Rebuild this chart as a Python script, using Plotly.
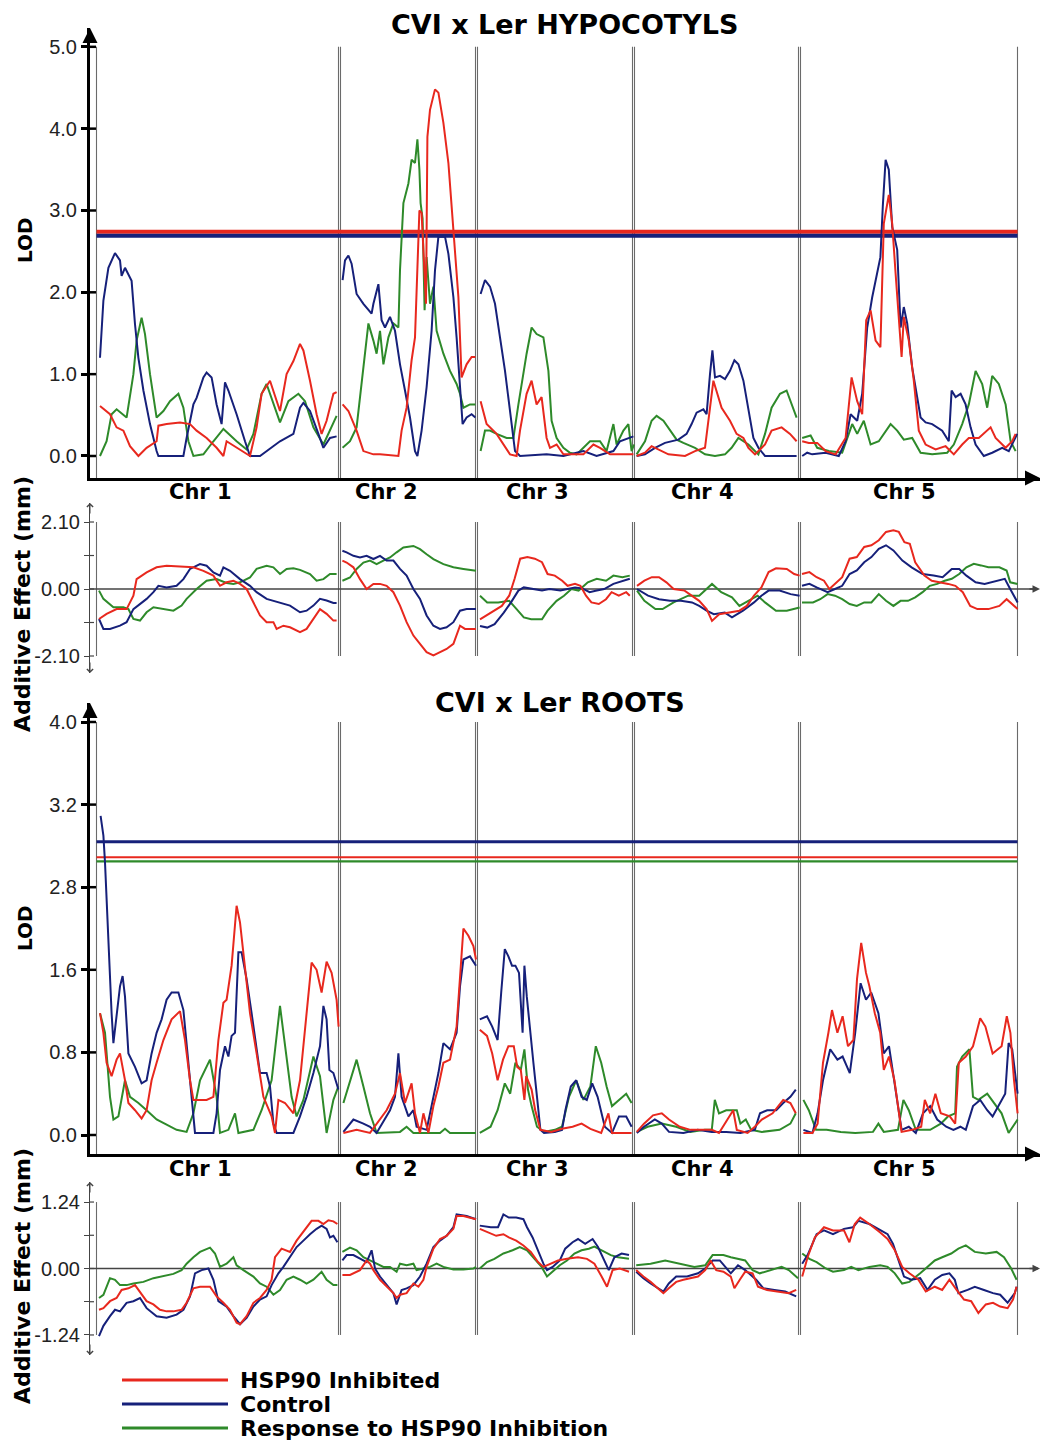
import plotly.graph_objects as go

W, H = 1048, 1441

# ---------------- data ----------------
CHROMOSOMES = ["Chr 1", "Chr 2", "Chr 3", "Chr 4", "Chr 5"]
CHR_LEN_CM = [120.5, 67, 77, 81.5, 108]
CHR_GAP_CM = 1.5

SERIES = ["HSP90 Inhibited", "Control", "Response to HSP90 Inhibition"]

HYP_LOD_TICKS = [0, 1, 2, 3, 4, 5]
HYP_LOD_TICKTEXT = ["0.0", "1.0", "2.0", "3.0", "4.0", "5.0"]
HYP_ADD_TICKS = [-2.1, -1.05, 0, 1.05, 2.1]
HYP_ADD_TICKTEXT = ["-2.10", "", "0.00", "", "2.10"]
ROOT_LOD_TICKS = [0, 0.8, 1.6, 2.4, 3.2, 4.0]
ROOT_LOD_TICKTEXT = ["0.0", "0.8", "1.6", "2.8", "3.2", "4.0"]
ROOT_ADD_TICKS = [-1.24, -0.62, 0, 0.62, 1.24]
ROOT_ADD_TICKTEXT = ["-1.24", "", "0.00", "", "1.24"]

# significance thresholds (HSP90 Inhibited, Control, Response)
HYP_THRESHOLDS = [2.74, 2.69, None]
ROOT_THRESHOLDS = [2.69, 2.84, 2.65]

# (position cM within chromosome, value) per chromosome
HYP_LOD_HSP90 = [
    [(1, 0.61), (6, 0.51), (9.3, 0.35), (12.7, 0.31), (16, 0.12), (20.2, 0), (24.3, 0.1), (29.3, 0.18), (30.2, 0.37),
     (34.3, 0.39), (41, 0.41), (46, 0.39), (49.3, 0.31), (54.3, 0.22), (59.3, 0.1), (62.7, 0), (64.3, 0.18), (69.3, 0.1),
     (76, 0), (79.3, 0.35), (81.8, 0.76), (86, 0.92), (89.3, 0.67), (91, 0.55), (94.3, 1.0), (97.7, 1.16), (101, 1.37),
     (102.7, 1.29), (106, 0.92), (109.3, 0.51), (111.8, 0.27), (114.3, 0.43), (117.7, 0.76), (119.3, 0.78)],
    [(0.3, 0.63), (3.2, 0.55), (7.3, 0.31), (10.7, 0.06), (15.7, 0.02), (19, 0.02), (28.2, 0), (29.8, 0.31), (32.3, 0.59),
     (34.8, 1.17), (36.5, 1.45), (37.7, 2.27), (38.7, 3.0), (39.8, 2.97), (41, 2.27), (42, 1.86), (42.7, 3.9), (44, 4.23),
     (46.5, 4.48), (48.2, 4.44), (50.7, 4.07), (53.2, 3.58), (55.7, 2.76), (58.2, 1.94), (59.8, 0.96), (62.3, 1.12),
     (64.8, 1.21), (66.7, 1.21)],
    [(0.8, 0.67), (3.8, 0.39), (8.8, 0.27), (12.2, 0.14), (15.5, 0.02), (18.8, 0), (20.5, 0.31), (23.8, 0.76), (26.3, 0.92),
     (28.8, 0.63), (31.3, 0.72), (33.8, 0.22), (35.5, 0.1), (38.8, 0.14), (42.2, 0.02), (52.2, 0.02), (57.2, 0.14),
     (60.5, 0.1), (65.5, 0.02), (77.2, 0.02)],
    [(0.3, 0), (4.5, 0.04), (7.8, 0.12), (11.2, 0.08), (16.2, 0.02), (24.5, 0), (29.5, 0.06), (34.5, 0.1), (35.8, 0.35),
     (38.7, 0.92), (42.8, 0.59), (47, 0.43), (50.3, 0.27), (53.7, 0.22), (56.2, 0.1), (59.5, 0.02), (64.5, 0.14),
     (67.8, 0.31), (72.8, 0.35), (77, 0.27), (80.3, 0.18)],
    [(0.1, 0.18), (3.4, 0.16), (7.6, 0.16), (11.8, 0.06), (16.8, 0.02), (21.8, 0.22), (24.8, 0.96), (27.6, 0.67),
     (30.1, 0.51), (32.1, 1.66), (34.3, 1.78), (36.8, 1.41), (39.2, 1.33), (40.9, 2.84), (43.4, 3.19), (45.1, 2.84),
     (46.8, 2.23), (48.4, 1.74), (49.8, 1.21), (50.9, 1.7), (53.4, 1.41), (55.9, 0.92), (58.4, 0.31), (61.8, 0.14),
     (66.8, 0.08), (71.8, 0.12), (75.9, 0.02), (80.1, 0.14), (83.4, 0.22), (88.4, 0.22), (94.3, 0.35), (96.8, 0.22),
     (101.8, 0.1), (105.1, 0.18), (106.8, 0.27)],
]
HYP_LOD_CONTROL = [
    [(1, 1.2), (2.7, 1.9), (5.2, 2.3), (8.5, 2.48), (11, 2.39), (11.8, 2.2), (13.5, 2.3), (15.2, 2.22), (16.8, 2.14),
     (18.5, 1.61), (20.2, 1.2), (22.7, 0.8), (26, 0.39), (29.3, 0.06), (30.2, 0), (42.7, 0), (44.3, 0.22), (47.7, 0.63),
     (49.3, 0.71), (52.7, 0.96), (54.3, 1.02), (56.8, 0.96), (59.3, 0.63), (61.8, 0.39), (63.5, 0.9), (65.2, 0.8),
     (69.3, 0.51), (73.5, 0.18), (76, 0), (81, 0), (84.3, 0.06), (91, 0.18), (97.7, 0.27), (101, 0.59), (102.7, 0.65),
     (106, 0.55), (110.2, 0.27), (112.7, 0.1), (116, 0.22), (119.3, 0.24)],
    [(0.3, 2.15), (1.5, 2.39), (3.2, 2.45), (4.8, 2.35), (7.3, 1.98), (10.7, 1.86), (14.8, 1.74), (15.7, 1.86), (18.2, 2.1),
     (19.8, 1.66), (21.5, 1.57), (24, 1.7), (26.5, 1.53), (29, 1.12), (31.5, 0.8), (34, 0.47), (36.5, 0.06), (37.7, 0),
     (39.8, 0.31), (42.3, 0.84), (44.8, 1.53), (46.5, 2.27), (48.2, 2.68), (51.5, 2.68), (53.2, 2.47), (55.7, 1.94),
     (57.3, 1.45), (59, 0.84), (60.3, 0.39), (62.3, 0.47), (64.8, 0.51), (66.7, 0.47)],
    [(0.8, 1.98), (3, 2.15), (5.5, 2.07), (8, 1.86), (10.5, 1.45), (13, 1.04), (15.5, 0.55), (18, 0.06), (20.5, 0),
     (33.8, 0.02), (42.2, 0), (52.2, 0.06), (58.8, 0), (67.2, 0.06), (70.5, 0.18), (75.5, 0.22), (77.2, 0.24)],
    [(0.3, 0), (4.5, 0.02), (9.5, 0.1), (14.5, 0.16), (21.2, 0.2), (25.3, 0.27), (27.8, 0.39), (30.3, 0.53), (33.7, 0.57),
     (35.3, 0.51), (37, 1.0), (38.2, 1.29), (39.5, 0.96), (42, 0.98), (44.5, 0.94), (47, 1.04), (49.2, 1.17), (51.2, 1.12),
     (53.7, 0.92), (56.2, 0.59), (58.7, 0.22), (61.2, 0.1), (64.5, 0), (80.3, 0)],
    [(0.1, 0), (2.6, 0.04), (5.1, 0.02), (11.8, 0.04), (18.4, 0), (21.8, 0.18), (24.3, 0.51), (27.6, 0.43), (30.1, 0.76),
     (32.6, 1.57), (35.1, 1.94), (37.6, 2.25), (39.2, 2.43), (40.4, 3.05), (41.8, 3.62), (43.4, 3.5), (45.1, 2.8),
     (47.6, 2.52), (49.3, 1.57), (50.9, 1.82), (52.6, 1.62), (55.1, 1.08), (57.6, 0.72), (59.3, 0.47), (61.8, 0.41),
     (65.1, 0.39), (70.1, 0.31), (73.4, 0.18), (74.8, 0.8), (76.8, 0.72), (79.3, 0.76), (81.8, 0.63), (84.3, 0.35),
     (86.8, 0.14), (90.9, 0), (95.1, 0.04), (100.1, 0.1), (103.4, 0.06), (107.6, 0.27)],
]
HYP_LOD_RESPONSE = [
    [(1, 0), (4.3, 0.18), (6.8, 0.51), (9.3, 0.57), (14.3, 0.47), (17.7, 1.0), (19.3, 1.41), (21.8, 1.69), (23.5, 1.49),
     (26, 1.0), (29.3, 0.47), (32.7, 0.55), (36, 0.67), (40.2, 0.76), (42.7, 0.59), (45.2, 0.18), (47.7, 0), (52.7, 0.02),
     (57.7, 0.18), (62.7, 0.33), (69.3, 0.18), (74.3, 0.08), (77.7, 0.27), (81.8, 0.76), (84.3, 0.88), (89.3, 0.51),
     (91, 0.41), (95.2, 0.67), (100.2, 0.76), (103.5, 0.67), (107.7, 0.35), (112.7, 0.14), (116, 0.31), (119.3, 0.49)],
    [(0.3, 0.1), (4, 0.18), (7.3, 0.35), (9, 0.72), (10.7, 1.12), (13.2, 1.62), (15.7, 1.41), (17.3, 1.25), (19, 1.53),
     (20.7, 1.12), (23.2, 1.45), (25.7, 1.62), (28.2, 1.57), (29, 2.27), (30.7, 3.09), (33.2, 3.33), (34.8, 3.62),
     (36.5, 3.58), (37.7, 3.87), (38.7, 3.5), (39.3, 3.09), (40.3, 2.9), (41.3, 1.78), (42.3, 2.43), (44, 1.86),
     (45.7, 2.07), (47.3, 1.53), (50.7, 1.25), (54, 1.04), (57.3, 0.88), (59, 0.76), (60.7, 0.59), (64, 0.63), (66.7, 0.63)],
    [(0.8, 0.06), (3, 0.31), (5.5, 0.31), (8.8, 0.27), (13.8, 0.22), (17.2, 0.22), (19.7, 0.63), (22.2, 1.04), (23.8, 1.25),
     (26.3, 1.57), (28.8, 1.49), (32.2, 1.45), (34.7, 1.04), (36.3, 0.43), (38.8, 0.22), (42.2, 0.1), (45.5, 0.04),
     (48.8, 0.02), (55.5, 0.18), (60.5, 0.18), (63.8, 0.06), (67.2, 0.39), (68.8, 0.14), (72.2, 0.31), (74.7, 0.39),
     (76.3, 0.06), (77.5, 0.14)],
    [(0.3, 0.02), (4.5, 0.18), (7.8, 0.43), (10.3, 0.49), (13.7, 0.43), (17, 0.31), (20.3, 0.2), (23.7, 0.16), (29.5, 0.1),
     (34.5, 0.02), (39.5, 0), (44.5, 0.02), (47.8, 0.1), (51.2, 0.22), (56.2, 0.14), (61.2, 0.02), (64.5, 0.27),
     (67.8, 0.59), (72, 0.76), (75.3, 0.8), (77.8, 0.63), (80.3, 0.47)],
    [(0.1, 0.22), (4.3, 0.25), (7.6, 0.1), (13.4, 0.06), (20.1, 0.04), (22.6, 0.22), (25.1, 0.39), (27.6, 0.27),
     (30.9, 0.43), (34.3, 0.14), (38.4, 0.18), (44.3, 0.39), (47.6, 0.31), (50.9, 0.2), (55.1, 0.22), (59.3, 0.04),
     (65.1, 0.02), (72.6, 0.04), (75.9, 0.14), (80.1, 0.39), (83.4, 0.63), (86.8, 1.04), (90.1, 0.88), (92.6, 0.59),
     (95.1, 0.98), (98.4, 0.88), (101.8, 0.63), (104.3, 0.18), (106.8, 0.06)],
]

HYP_ADD_HSP90 = [
    [(0.5, -0.94), (4.3, -0.78), (9.3, -0.63), (14.3, -0.63), (17.7, -0.21), (19.3, 0.31), (24.3, 0.52), (29.3, 0.68),
     (34.3, 0.73), (41, 0.71), (47.7, 0.68), (52.7, 0.57), (57.7, 0.42), (61, 0.1), (64.3, 0.21), (67.7, 0.26), (71, 0.16),
     (74.3, 0), (77.7, -0.42), (81, -0.83), (84.3, -1.04), (87.7, -1.04), (89.3, -1.25), (92.7, -1.15), (96, -1.2),
     (101, -1.35), (104.3, -1.25), (107.7, -0.94), (111, -0.63), (114.3, -0.78), (117.7, -0.99), (119.3, -0.99)],
    [(0.2, 0.89), (2.3, 0.83), (5.7, 0.68), (9, 0.31), (12.3, 0), (15.7, 0.16), (19, 0.16), (22.3, 0.1), (25.7, -0.1),
     (29, -0.52), (32.3, -1.04), (35.7, -1.46), (39, -1.72), (42.3, -1.98), (45.7, -2.08), (49, -1.98), (52.3, -1.88),
     (55.7, -1.72), (59, -1.15), (61.5, -1.25), (65.7, -1.25), (67, -1.25)],
    [(0.5, -0.95), (6, -0.74), (11.4, -0.53), (15.1, -0.21), (17.8, 0.32), (20.6, 0.95), (24.2, 1.0), (27.9, 0.95),
     (31.5, 0.84), (34.3, 0.47), (37.9, 0.42), (41.6, 0.26), (44.3, 0.1), (48, 0.16), (50.7, 0.1), (53.5, -0.21),
     (56.2, -0.42), (59.9, -0.47), (63.5, -0.32), (66.3, -0.1), (69.9, -0.21), (73.6, -0.1), (75.4, -0.21)],
    [(0.5, 0.1), (4.2, 0.26), (7.9, 0.37), (11.5, 0.37), (15.2, 0.21), (18.8, 0), (24.3, -0.05), (28, -0.21),
     (31.6, -0.37), (35.3, -0.63), (38, -1.0), (41.6, -0.79), (46.2, -0.74), (51.7, -0.68), (55.4, -0.53), (59, -0.21),
     (62.7, 0.05), (66.3, 0.53), (70, 0.65), (75.4, 0.63), (79.1, 0.47), (81.8, 0.42)],
    [(0, 0.47), (3.7, 0.53), (7.3, 0.37), (11, 0.26), (13.7, 0), (16.5, 0.16), (20.1, 0.37), (23.8, 0.95), (27.4, 1.0),
     (31.1, 1.32), (34.7, 1.37), (38.4, 1.53), (42, 1.79), (45.7, 1.84), (48.4, 1.79), (51.2, 1.47), (53.9, 1.42),
     (56.6, 0.84), (61.2, 0.42), (64.9, 0.26), (69.4, 0.21), (73.1, 0.16), (76.7, 0.1), (80.4, -0.1), (84.1, -0.53),
     (87.7, -0.63), (93.2, -0.63), (98.7, -0.53), (102.3, -0.32), (106, -0.53), (107.8, -0.63)],
]
HYP_ADD_CONTROL = [
    [(0.5, -0.94), (2.7, -1.25), (6, -1.25), (11, -1.15), (14.3, -1.04), (17.7, -0.63), (24.3, -0.31), (27.7, -0.1),
     (30.2, 0.1), (34.3, 0.05), (39.3, 0.1), (42.7, 0.31), (46, 0.63), (51, 0.78), (54.3, 0.73), (57.7, 0.52), (61, 0.42),
     (62.7, 0.68), (66, 0.57), (71, 0.31), (76, 0.1), (79.3, -0.1), (84.3, -0.31), (91, -0.42), (96, -0.52),
     (101, -0.73), (104.3, -0.68), (107.7, -0.52), (111, -0.31), (114.3, -0.36), (117.7, -0.44), (119.3, -0.44)],
    [(0.2, 1.2), (2.3, 1.15), (5.7, 1.04), (9, 0.99), (12.3, 1.04), (15.7, 0.94), (19, 1.04), (22.3, 0.89), (25.7, 0.89),
     (29, 0.63), (32.3, 0.42), (35.7, 0), (39, -0.31), (42.3, -0.83), (45.7, -1.15), (49, -1.25), (52.3, -1.2),
     (55.7, -1.04), (59, -0.68), (62.3, -0.63), (67, -0.63)],
    [(0.5, -1.16), (4.1, -1.21), (7.8, -1.1), (12.4, -0.74), (16, -0.42), (19.7, -0.05), (22.4, 0.05), (26.1, 0),
     (31.5, -0.05), (35.2, 0), (40.7, -0.05), (44.3, 0), (48, 0.05), (51.6, 0.02), (55.3, -0.1), (58.9, -0.05), (62.6, 0),
     (67.2, 0.16), (71.7, 0.26), (75.4, 0.32)],
    [(0.5, 0), (6, -0.21), (11.5, -0.32), (17, -0.37), (22.5, -0.37), (28, -0.42), (31.6, -0.53), (35.3, -0.68),
     (38.9, -0.79), (44.4, -0.74), (48, -0.89), (53.5, -0.68), (59, -0.42), (62.7, -0.21), (66.3, -0.05), (71.8, -0.05),
     (77.3, -0.16), (81.8, -0.21)],
    [(0, 0.1), (3.7, 0.16), (7.3, 0.05), (12.8, -0.1), (16.5, 0), (20.1, 0.1), (23.8, 0.47), (27.4, 0.58), (31.1, 0.84),
     (34.7, 1.0), (38.4, 1.26), (42, 1.37), (45.7, 1.21), (50.2, 0.89), (54.8, 0.68), (60.3, 0.47), (65.8, 0.42),
     (70.3, 0.37), (74.9, 0.63), (78.6, 0.63), (82.2, 0.42), (86.8, 0.21), (91.3, 0.16), (96.8, 0.26), (101.4, 0.32),
     (104.1, 0), (107.8, -0.42)],
]
HYP_ADD_RESPONSE = [
    [(0.5, -0.05), (2.7, -0.31), (7.7, -0.57), (12.7, -0.57), (15.2, -0.63), (17.7, -0.94), (21, -0.99), (24.3, -0.73),
     (27.7, -0.57), (32.7, -0.63), (37.7, -0.68), (41.8, -0.52), (44.3, -0.31), (49.3, 0), (54.3, 0.26), (59.3, 0.31),
     (64.3, 0.19), (67.7, 0.16), (71, 0.21), (76, 0.36), (79.3, 0.63), (84.3, 0.73), (87.7, 0.68), (91, 0.47),
     (94.3, 0.63), (97.7, 0.65), (101, 0.6), (106, 0.47), (109.3, 0.26), (112.7, 0.31), (116, 0.47), (119.3, 0.47)],
    [(0.2, 0.26), (4, 0.36), (7.3, 0.63), (10.7, 0.83), (14, 0.89), (17.3, 0.78), (20.7, 0.89), (24, 0.99), (27.3, 1.15),
     (30.7, 1.3), (35.7, 1.35), (39, 1.25), (42.3, 1.09), (45.7, 0.94), (50.7, 0.78), (55.7, 0.68), (60.7, 0.63),
     (64, 0.6), (67, 0.57)],
    [(0.5, -0.21), (4.1, -0.42), (9.6, -0.42), (15.1, -0.37), (18.8, -0.63), (22.4, -0.89), (26.1, -0.95), (31.5, -0.95),
     (34.3, -0.68), (38.8, -0.37), (42.5, -0.21), (46.2, 0), (49.8, -0.05), (54.4, 0.21), (58.9, 0.32), (63.5, 0.26),
     (67.2, 0.42), (71.7, 0.37), (75.4, 0.42)],
    [(0.5, -0.05), (4.2, -0.37), (9.7, -0.63), (13.3, -0.63), (18.8, -0.42), (26.1, -0.21), (31.6, -0.21), (35.3, 0),
     (38, 0.16), (42.6, -0.1), (48, -0.26), (51.7, -0.53), (57.2, -0.32), (60.8, -0.21), (64.5, -0.42), (70, -0.68),
     (75.4, -0.68), (81.8, -0.58)],
    [(0, -0.42), (5.5, -0.42), (9.1, -0.32), (12.8, -0.16), (16.5, -0.21), (20.1, -0.32), (23.8, -0.47), (27.4, -0.53),
     (31.1, -0.42), (34.7, -0.42), (38.4, -0.16), (42, -0.37), (45.7, -0.53), (49.3, -0.37), (53, -0.37), (56.6, -0.26),
     (60.3, -0.1), (63.9, 0.1), (67.6, 0.16), (71.3, 0.26), (74.9, 0.32), (78.6, 0.47), (82.2, 0.68), (85.9, 0.79),
     (89.5, 0.74), (93.2, 0.68), (98.7, 0.68), (102.3, 0.58), (104.1, 0.21), (107.8, 0.16)],
]

ROOT_LOD_HSP90 = [
    [(1, 1.18), (2.7, 0.99), (4.3, 0.7), (6.8, 0.57), (9.3, 0.73), (11, 0.79), (13.5, 0.53), (15.2, 0.31), (18.5, 0.24),
     (21.8, 0.16), (24.3, 0.24), (26.8, 0.53), (29.3, 0.7), (32.7, 0.92), (36.8, 1.12), (41, 1.2), (43.5, 0.92), (46, 0.53),
     (47.7, 0.34), (51, 0.34), (54.3, 0.34), (57.7, 0.37), (60.2, 0.92), (62.7, 1.28), (64.3, 1.31), (66.8, 1.64),
     (69.3, 2.22), (71, 2.06), (73.5, 1.64), (76, 1.18), (79.3, 0.79), (82.7, 0.37), (86.8, 0.18), (88.5, 0.02),
     (90.2, 0.34), (93.5, 0.31), (97.7, 0.21), (101, 0.53), (104.3, 1.18), (106.8, 1.67), (109.3, 1.6), (111.8, 1.38),
     (114.3, 1.68), (116.8, 1.57), (119.3, 1.31), (120.3, 1.05)],
    [(0.7, 0.02), (7.3, 0.05), (14, 0.02), (19, 0.15), (22.3, 0.24), (26.5, 0.4), (29, 0.6), (31.5, 0.31), (34.8, 0.5),
     (36.5, 0.21), (39, 0.02), (40.7, 0.21), (43.2, 0.02), (45.7, 0.28), (48.2, 0.47), (50.7, 0.7), (54, 0.73),
     (57.3, 1.05), (59, 1.51), (60.7, 2.0), (63.2, 1.93), (65.7, 1.83), (67, 1.7)],
    [(0.4, 1.02), (4, 0.96), (6.6, 0.79), (9.3, 0.53), (12, 0.73), (14.7, 0.86), (17.4, 0.86), (19.1, 0.66), (20.9, 0.63),
     (22.7, 0.34), (23.6, 0.57), (26.3, 0.44), (28.1, 0.24), (30.7, 0.05), (36.1, 0.03), (41.5, 0.06), (46.8, 0.08),
     (51.3, 0.11), (55.7, 0.06), (61.1, 0.02), (64.7, 0.21), (66.5, 0.02), (76.3, 0.02)],
    [(0.4, 0.03), (4, 0.11), (8.5, 0.19), (12.9, 0.21), (16.5, 0.15), (21.9, 0.08), (27.2, 0.05), (37.9, 0.05),
     (41.5, 0.02), (48.6, 0.24), (50.4, 0.05), (55.8, 0.02), (59.4, 0.08), (62.9, 0.15), (68.3, 0.21), (73.6, 0.34),
     (77.2, 0.31), (79.9, 0.21)],
    [(0.7, 0.02), (5.2, 0.02), (7.8, 0.11), (10.5, 0.7), (13.2, 0.99), (15, 1.21), (17.7, 0.99), (20.3, 1.15), (23, 0.86),
     (25.7, 0.92), (27.5, 1.51), (29.6, 1.86), (32, 1.57), (33.7, 1.44), (36.4, 1.18), (39.1, 0.99), (40.9, 0.63),
     (43.5, 0.76), (46.2, 0.53), (49.8, 0.03), (55.1, 0.05), (59.6, 0.08), (61.4, 0.34), (64.1, 0.21), (66.7, 0.4),
     (69.4, 0.21), (73.9, 0.18), (76.6, 0.11), (78.4, 0.7), (81.9, 0.76), (85.5, 0.86), (89.1, 1.13), (91.7, 1.05),
     (95.3, 0.79), (99.8, 0.86), (102.4, 1.15), (104.2, 0.99), (106, 0.53), (107.8, 0.21)],
]
ROOT_LOD_CONTROL = [
    [(1.3, 3.09), (2.7, 2.9), (3.5, 2.64), (5.2, 1.83), (6.8, 1.18), (7.7, 0.89), (9.3, 1.18), (11, 1.44), (12.3, 1.54),
     (13.5, 1.34), (15.2, 0.79), (18.5, 0.66), (21.8, 0.5), (24.3, 0.53), (26.8, 0.79), (29.3, 0.99), (31.8, 1.12),
     (34.3, 1.31), (36.8, 1.38), (40.2, 1.38), (42.7, 1.21), (44.3, 0.86), (46.8, 0.37), (48.5, 0.02), (57.7, 0.02),
     (59.3, 0.21), (61, 0.63), (63.5, 0.86), (65.2, 0.76), (66.8, 0.96), (68.5, 0.99), (70.2, 1.77), (71.8, 1.77),
     (74.3, 1.51), (76.8, 1.18), (79.3, 0.83), (81, 0.6), (84.3, 0.6), (86, 0.47), (87.7, 0.11), (89.3, 0.02),
     (97.7, 0.02), (101, 0.18), (104.3, 0.37), (107.7, 0.6), (111, 0.86), (112.7, 1.25), (114.3, 1.12), (115.7, 0.63),
     (117.7, 0.6), (120.2, 0.44)],
    [(0.7, 0.03), (5.7, 0.15), (10.7, 0.11), (14, 0.08), (17.3, 0.02), (24, 0.24), (26.5, 0.37), (28.2, 0.79),
     (29.8, 0.37), (33.2, 0.18), (35.7, 0.24), (37.3, 0.08), (42.3, 0.05), (44.8, 0.28), (48.2, 0.6), (50.7, 0.89),
     (54, 0.83), (57.3, 0.99), (59, 1.44), (60.7, 1.7), (64, 1.73), (67, 1.64)],
    [(0.4, 1.12), (4, 1.15), (6.6, 1.05), (9.3, 0.92), (11.1, 1.38), (12.9, 1.8), (14.7, 1.73), (16.5, 1.64), (18.2, 1.64),
     (20, 1.57), (21.8, 0.99), (22.7, 1.64), (23.9, 1.34), (25.4, 1.02), (27.2, 0.7), (29, 0.37), (30.7, 0.05),
     (32.5, 0.02), (37.9, 0.03), (41.5, 0.05), (43.2, 0.24), (45.9, 0.47), (48.6, 0.53), (51.3, 0.37), (53.9, 0.34),
     (56.6, 0.5), (59.3, 0.37), (62.9, 0.08), (66.5, 0.02), (70, 0.18), (73.6, 0.18), (76.3, 0.08)],
    [(0.4, 0.02), (4, 0.08), (9.4, 0.15), (12.9, 0.11), (16.5, 0.03), (23.7, 0.02), (30.8, 0.05), (37.9, 0.03),
     (45.1, 0.03), (52.2, 0.02), (59.4, 0.05), (62, 0.21), (65.6, 0.24), (70.1, 0.24), (73.6, 0.31), (77.2, 0.37),
     (79.9, 0.44)],
    [(0.7, 0.05), (5.2, 0.02), (7.8, 0.21), (10.5, 0.53), (14.1, 0.83), (17.7, 0.73), (20.3, 0.76), (23.9, 0.6),
     (26.6, 0.99), (29.3, 1.47), (32, 1.31), (34.6, 1.38), (38.2, 1.18), (40.9, 0.79), (43.5, 0.86), (46.2, 0.53),
     (49.8, 0.05), (53.4, 0.08), (56.9, 0.02), (60.5, 0.21), (64.1, 0.28), (67.6, 0.15), (72.1, 0.08), (75.7, 0.05),
     (79.2, 0.08), (81.9, 0.05), (85.5, 0.28), (89.1, 0.34), (92.6, 0.24), (95.3, 0.18), (98.9, 0.31), (101.6, 0.4),
     (103.3, 0.89), (105.1, 0.83), (107.8, 0.4)],
]
ROOT_LOD_RESPONSE = [
    [(1, 1.18), (3.5, 0.99), (6, 0.37), (7.7, 0.15), (10.2, 0.18), (13.5, 0.53), (16, 0.37), (20.2, 0.31), (24.3, 0.24),
     (29.3, 0.15), (34.3, 0.1), (39.3, 0.05), (44.3, 0.03), (47.7, 0.21), (51, 0.53), (56, 0.73), (59.3, 0.37),
     (61, 0.02), (65.2, 0.05), (68.5, 0.21), (70.2, 0.02), (77.7, 0.05), (81.8, 0.24), (86.8, 0.53), (91, 1.25),
     (93.5, 0.86), (96.8, 0.37), (99.3, 0.18), (102.7, 0.34), (107.7, 0.76), (111, 0.57), (114.3, 0.02), (117.7, 0.34),
     (120.2, 0.47)],
    [(0.7, 0.31), (4, 0.53), (7.3, 0.73), (10.7, 0.47), (14, 0.21), (17.3, 0.02), (29, 0.03), (32.3, 0.08), (35.7, 0.02),
     (49, 0.02), (51.5, 0.06), (54, 0.02), (67, 0.02)],
    [(0.4, 0.02), (5.8, 0.08), (9.3, 0.24), (12.9, 0.5), (15.6, 0.4), (18.2, 0.7), (20.9, 0.63), (22.7, 0.83),
     (24.5, 0.44), (26.3, 0.28), (29, 0.08), (32.5, 0.03), (37.9, 0.05), (41.5, 0.08), (45, 0.37), (48.6, 0.53),
     (52.2, 0.34), (55.7, 0.47), (58.4, 0.86), (61.1, 0.7), (63.8, 0.47), (66.5, 0.28), (70, 0.34), (73.6, 0.4),
     (76.3, 0.31)],
    [(0.4, 0.03), (5.8, 0.08), (12.9, 0.11), (20.1, 0.08), (27.2, 0.03), (34.4, 0.05), (37.9, 0.05), (39.4, 0.34),
     (41.5, 0.21), (45.1, 0.24), (50.4, 0.24), (52.2, 0.11), (54.9, 0.15), (57.6, 0.05), (62.9, 0.03), (71.8, 0.05),
     (77.2, 0.11), (79.9, 0.21)],
    [(0.7, 0.34), (3.4, 0.24), (7, 0.05), (12.3, 0.05), (19.4, 0.03), (26.6, 0.02), (35.5, 0.03), (38.2, 0.11),
     (40.9, 0.03), (48, 0.05), (50.7, 0.34), (53.4, 0.24), (56.9, 0.05), (64.1, 0.05), (69.4, 0.11), (73, 0.18),
     (76.6, 0.21), (77.5, 0.66), (80.1, 0.76), (83.7, 0.83), (85.5, 0.37), (88.2, 0.34), (92.6, 0.4), (96.2, 0.31),
     (99.8, 0.21), (103.3, 0.02), (107.8, 0.15)],
]

ROOT_ADD_HSP90 = [
    [(0.5, -0.77), (2.7, -0.74), (6, -0.61), (9.3, -0.55), (11.8, -0.4), (15.2, -0.37), (18.5, -0.31), (21, -0.43),
     (24.3, -0.61), (27.7, -0.67), (31, -0.77), (34.3, -0.8), (37.7, -0.8), (41.8, -0.77), (44.3, -0.64), (47.7, -0.37),
     (51, -0.34), (56, -0.34), (59.3, -0.52), (62.7, -0.64), (66, -0.77), (69.3, -1.01), (71, -1.04), (74.3, -0.89),
     (77.7, -0.64), (81, -0.55), (84.3, -0.4), (86.8, -0.21), (88.5, 0.21), (91.8, 0.37), (96, 0.31), (99.3, 0.52),
     (103.5, 0.74), (106.8, 0.89), (110.2, 0.89), (112.7, 0.83), (115.2, 0.9), (117.7, 0.88), (119.7, 0.83)],
    [(0.2, -0.12), (4, -0.12), (9, -0.03), (12.3, 0.15), (14, 0.09), (15.7, -0.03), (19, -0.21), (22.3, -0.34),
     (25.7, -0.46), (27.3, -0.55), (29, -0.49), (32.3, -0.46), (35.7, -0.28), (38.2, -0.34), (40.7, -0.21), (42.3, 0.03),
     (45.7, 0.37), (49, 0.55), (52.3, 0.61), (55.7, 0.74), (57.3, 0.98), (60.7, 0.98), (64, 0.95), (67, 0.92)],
    [(0.4, 0.74), (5, 0.67), (8.6, 0.61), (12.2, 0.64), (14.9, 0.58), (18.6, 0.52), (22.2, 0.43), (25.9, 0.31),
     (29.5, 0.12), (32.2, 0.03), (35.9, 0.09), (39.5, 0.15), (44, 0.18), (49.5, 0.21), (54, 0.18), (57.7, 0.09),
     (61.3, -0.15), (64, -0.34), (66.8, -0.03), (70.4, 0), (75, -0.06)],
    [(0.1, -0.03), (3.7, -0.15), (7.3, -0.25), (11, -0.37), (13.7, -0.46), (16.4, -0.37), (20.1, -0.25), (23.7, -0.21),
     (27.3, -0.18), (31, -0.15), (34.6, -0.03), (37.3, 0.15), (40.1, -0.03), (43.7, -0.06), (47.4, -0.15), (49.2, -0.37),
     (51.9, -0.21), (54.6, -0.06), (58.3, -0.09), (61, -0.34), (65.5, -0.4), (71, -0.43), (76.4, -0.46), (80.1, -0.4)],
    [(0.1, -0.15), (2.8, 0.21), (6.4, 0.58), (11, 0.77), (15.5, 0.71), (21, 0.71), (23.7, 0.49), (26.4, 0.83),
     (29.1, 0.95), (33.7, 0.83), (39.1, 0.67), (42.8, 0.55), (46.4, 0.34), (50.1, 0.03), (53.7, -0.09), (58.2, -0.21),
     (61.9, -0.43), (66.4, -0.34), (70.1, -0.4), (73.7, -0.21), (77.3, -0.4), (81, -0.58), (84.6, -0.61), (88.2, -0.83),
     (91.9, -0.67), (95.5, -0.64), (99.1, -0.71), (102.8, -0.74), (105.5, -0.58), (107.3, -0.34)],
]
ROOT_ADD_CONTROL = [
    [(0.5, -1.26), (2.7, -1.07), (6, -0.89), (8.5, -0.77), (11, -0.8), (14.3, -0.64), (17.7, -0.61), (21, -0.55),
     (24.3, -0.74), (29.3, -0.89), (34.3, -0.92), (39.3, -0.86), (42.7, -0.77), (46, -0.52), (48.5, -0.09),
     (51.8, -0.03), (55.2, 0), (57.7, -0.21), (60.2, -0.61), (64.3, -0.71), (67.7, -0.89), (71, -1.04), (74.3, -0.92),
     (77.7, -0.71), (81, -0.58), (84.3, -0.52), (86.8, -0.31), (90.2, -0.09), (92.7, 0.03), (96, 0.21), (99.3, 0.4),
     (102.7, 0.52), (106, 0.64), (109.3, 0.74), (111.8, 0.8), (114.3, 0.74), (116, 0.58), (117.7, 0.61), (119.7, 0.49)],
    [(0.2, 0.15), (2.3, 0.25), (5.7, 0.25), (9, 0.18), (12.3, 0.12), (14.8, 0.34), (16.5, 0), (19, -0.15), (22.3, -0.31),
     (25.7, -0.46), (27.3, -0.67), (29.8, -0.4), (32.3, -0.37), (35.7, -0.31), (39, -0.15), (42.3, 0.09), (45.7, 0.4),
     (49, 0.52), (52.3, 0.61), (55.7, 0.77), (57.3, 1.01), (62.3, 0.98), (67, 0.92)],
    [(0.4, 0.8), (5.9, 0.77), (9.5, 0.77), (12.2, 1.01), (14.9, 0.95), (18.6, 0.95), (22.2, 0.92), (24, 0.77),
     (26.8, 0.58), (29.5, 0.34), (32.2, 0.09), (34, -0.03), (36.8, 0.03), (40.4, 0.15), (43.1, 0.37), (46.8, 0.49),
     (49.5, 0.55), (53.1, 0.46), (56.8, 0.55), (59.5, 0.4), (62.2, 0.18), (64.9, -0.03), (67.7, 0.21), (71.3, 0.28),
     (75, 0.25)],
    [(0.1, -0.06), (3.7, -0.18), (7.3, -0.28), (11, -0.37), (13.7, -0.43), (16.4, -0.28), (20.1, -0.15), (25.5, -0.15),
     (31, -0.09), (34.6, 0), (38.3, 0.15), (41.9, 0.15), (45.5, 0), (47.4, -0.09), (51, 0.06), (54.6, -0.03),
     (60.1, -0.21), (63.7, -0.37), (69.2, -0.4), (74.6, -0.43), (80.1, -0.52)],
    [(0.1, 0.09), (2.8, 0.25), (7.3, 0.64), (11, 0.71), (15.5, 0.64), (21, 0.74), (25.5, 0.77), (28.2, 0.89),
     (33.7, 0.83), (39.1, 0.71), (42.8, 0.64), (45.5, 0.46), (48.2, 0.15), (51, -0.15), (54.6, -0.21), (59.1, -0.18),
     (62.8, -0.4), (66.4, -0.21), (70.1, -0.12), (73.7, -0.09), (76.4, -0.21), (78.2, -0.46), (82.8, -0.4),
     (86.4, -0.34), (91, -0.4), (95.5, -0.46), (99.1, -0.49), (102.8, -0.64), (106.4, -0.46), (107.3, -0.34)],
]
ROOT_ADD_RESPONSE = [
    [(0.5, -0.55), (2.7, -0.49), (6, -0.18), (8.5, -0.21), (11, -0.31), (14.3, -0.31), (17.7, -0.28), (22.7, -0.25),
     (27.7, -0.18), (32.7, -0.14), (37.7, -0.1), (41.8, -0.03), (44.3, 0.09), (47.7, 0.21), (51, 0.31), (56, 0.39),
     (58.5, 0.28), (61, 0.03), (64.3, 0.09), (67.7, 0.21), (69.3, 0.06), (72.7, -0.03), (77.7, -0.15), (81, -0.28),
     (84.3, -0.34), (87.7, -0.49), (91, -0.4), (94.3, -0.21), (97.7, -0.15), (101, -0.21), (104.3, -0.28),
     (107.7, -0.21), (111.8, -0.06), (114.3, -0.21), (117.7, -0.31), (119.7, -0.31)],
    [(0.2, 0.31), (4, 0.39), (7.3, 0.34), (10.7, 0.21), (14, 0.15), (17.3, 0.09), (20.7, 0.03), (24, 0.03), (27.3, -0.06),
     (29, 0.09), (32.3, 0.06), (35.7, 0.09), (37.3, -0.03), (40.7, 0), (44, 0.03), (47.3, 0.09), (50.7, 0.03),
     (55.7, -0.02), (60.7, -0.02), (65.7, 0), (67, 0.03)],
    [(0.4, 0), (4, 0.12), (7.7, 0.18), (12.2, 0.28), (16.8, 0.34), (20.4, 0.4), (24, 0.34), (27.7, 0.18), (31.3, 0.03),
     (34, -0.15), (36.8, -0.06), (40.4, 0.06), (44, 0.15), (47.7, 0.28), (51.3, 0.34), (54.9, 0.37), (57.7, 0.41),
     (61.3, 0.34), (65.9, 0.25), (69.5, 0.21), (75, 0.18)],
    [(0.1, 0.06), (7.3, 0.09), (14.6, 0.15), (21.9, 0.09), (29.2, 0.03), (34.6, 0.06), (38.3, 0.25), (43.7, 0.25),
     (47.4, 0.21), (54.6, 0.15), (58.3, -0.03), (61.9, -0.09), (67.3, -0.03), (72.8, 0.03), (76.4, -0.03), (81, -0.18)],
    [(0.1, 0.28), (3.7, 0.18), (7.3, 0.12), (11.9, 0), (15.5, -0.06), (21, -0.03), (24.6, 0.03), (28.2, -0.03),
     (33.7, 0.03), (39.1, 0.06), (42.8, 0.03), (46.4, -0.09), (50.1, -0.28), (53.7, -0.25), (59.1, -0.09), (62.8, 0.03),
     (66.4, 0.15), (70.1, 0.21), (74.6, 0.28), (78.2, 0.37), (81.9, 0.43), (86.4, 0.31), (91.9, 0.28), (97.3, 0.31),
     (101, 0.21), (104.6, 0), (107.3, -0.21)],
]

# ---------------- styling / layout ----------------
COLORS = {"HSP90 Inhibited": "#e8281e", "Control": "#16207a", "Response to HSP90 Inhibition": "#2e8a2a"}
BOLD = "DejaVu Sans"
REG = "Liberation Sans, Arial, sans-serif"

# the page body has an 8px margin; the figure is sized/positioned to compensate
OFF = 8
FW, FH = W - OFF, H - OFF

CHR_OFFSET = []
_acc = 0.0
for L in CHR_LEN_CM:
    CHR_OFFSET.append(_acc)
    _acc += L + CHR_GAP_CM
X_MIN, X_MAX = -4.0, 471.0


def px(x):
    return (x - OFF) / FW


def py(y):
    return 1 - (y - OFF) / FH


def flat(chroms):
    xs, ys = [], []
    for i, pts in enumerate(chroms):
        for p, v in pts:
            xs.append(CHR_OFFSET[i] + p)
            ys.append(v)
        xs.append(None)
        ys.append(None)
    return xs, ys


fig = go.Figure()

panels = [
    ("", [HYP_LOD_HSP90, HYP_LOD_CONTROL, HYP_LOD_RESPONSE], [-0.269, 5.23], (28, 478),
     HYP_LOD_TICKS, HYP_LOD_TICKTEXT, True, (-0.269, 5.0), HYP_THRESHOLDS, [4, 4, 0]),
    ("2", [HYP_ADD_HSP90, HYP_ADD_CONTROL, HYP_ADD_RESPONSE], [-2.633, 2.696], (503, 673),
     HYP_ADD_TICKS, HYP_ADD_TICKTEXT, False, (-2.1, 2.1), [None, None, None], [0, 0, 0]),
    ("3", [ROOT_LOD_HSP90, ROOT_LOD_CONTROL, ROOT_LOD_RESPONSE], [-0.184, 4.184], (703, 1154),
     ROOT_LOD_TICKS, ROOT_LOD_TICKTEXT, True, (-0.184, 4.0), ROOT_THRESHOLDS, [2.2, 3.2, 2.2]),
    ("4", [ROOT_ADD_HSP90, ROOT_ADD_CONTROL, ROOT_ADD_RESPONSE], [-1.614, 1.614], (1182, 1355),
     ROOT_ADD_TICKS, ROOT_ADD_TICKTEXT, False, (-1.24, 1.24), [None, None, None], [0, 0, 0]),
]

shapes = []
annotations = []
layout_axes = {}

for suf, datasets, yr, (top, bot), tv, tt, is_lod, (c0, c1), thr, thr_w in panels:
    xa = "x" + suf
    ya = "y" + suf
    # chromosome separators
    for i, L in enumerate(CHR_LEN_CM):
        for xv in (CHR_OFFSET[i] - 0.75, CHR_OFFSET[i] + L - 0.25):
            shapes.append(dict(type="line", xref=xa, yref=ya, x0=xv, x1=xv, y0=c0, y1=c1,
                               line=dict(color="#6a6a6a", width=1.1), layer="below"))
    # inner half of tick marks (ticks cross the axis)
    for t, lab in zip(tv, tt):
        shapes.append(dict(type="line", xref="paper", yref=ya, x0=px(90), x1=px(96 if is_lod else 94), y0=t, y1=t,
                           line=dict(color="black" if is_lod else "#444444", width=2.5 if is_lod else 1.2)))
    if not is_lod:
        shapes.append(dict(type="line", xref=xa, yref=ya, x0=X_MIN, x1=X_MAX - 1, y0=0, y1=0,
                           line=dict(color="#444444", width=1.5), layer="below"))
        annotations.append(dict(x=X_MAX, y=0, xref=xa, yref=ya, ax=-12, ay=0, text="", showarrow=True,
                                arrowhead=2, arrowsize=1, arrowwidth=1.5, arrowcolor="#444444"))
        annotations.append(dict(x=X_MIN, y=yr[1], xref=xa, yref=ya, ax=0, ay=12, text="", showarrow=True,
                                arrowhead=4, arrowsize=1.2, arrowwidth=1, arrowcolor="#444444"))
        annotations.append(dict(x=X_MIN, y=yr[0], xref=xa, yref=ya, ax=0, ay=-12, text="", showarrow=True,
                                arrowhead=4, arrowsize=1.2, arrowwidth=1, arrowcolor="#444444"))
    else:
        annotations.append(dict(x=X_MAX, y=yr[0], xref=xa, yref=ya, ax=-16, ay=0, text="", showarrow=True,
                                arrowhead=2, arrowsize=1, arrowwidth=3, arrowcolor="black"))
        annotations.append(dict(x=X_MIN, y=yr[1], xref=xa, yref=ya, ax=0, ay=16, text="", showarrow=True,
                                arrowhead=2, arrowsize=1, arrowwidth=3, arrowcolor="black"))
    # thresholds
    for name, t, w in zip(SERIES, thr, thr_w):
        if t is None:
            continue
        fig.add_trace(go.Scatter(x=[CHR_OFFSET[0] - 0.75, CHR_OFFSET[-1] + CHR_LEN_CM[-1] - 0.25], y=[t, t],
                                 mode="lines", line=dict(color=COLORS[name], width=w),
                                 xaxis=xa, yaxis=ya, showlegend=False, hoverinfo="skip"))
    # curves (green, blue, red drawing order)
    for idx in (2, 1, 0):
        xs, ys = flat(datasets[idx])
        fig.add_trace(go.Scatter(x=xs, y=ys, mode="lines", name=SERIES[idx],
                                 line=dict(color=COLORS[SERIES[idx]], width=2),
                                 xaxis=xa, yaxis=ya, showlegend=False, connectgaps=False))
    xkey = "xaxis" + suf
    ykey = "yaxis" + suf
    layout_axes[xkey] = dict(domain=[px(90), px(1040)], range=[X_MIN, X_MAX], anchor=ya,
                             showgrid=False, zeroline=False, showticklabels=False, ticks="",
                             showline=is_lod, linecolor="black", linewidth=3, fixedrange=True)
    layout_axes[ykey] = dict(domain=[py(bot), py(top)], range=yr, anchor=xa,
                             showgrid=False, zeroline=False, tickvals=tv, ticktext=tt,
                             ticks="outside", ticklen=6 if is_lod else 5,
                             tickwidth=2.5 if is_lod else 1.2,
                             tickcolor="black" if is_lod else "#444444",
                             showline=True, linecolor="black" if is_lod else "#444444",
                             linewidth=3 if is_lod else 1.2,
                             tickfont=dict(family=REG, size=20, color="#222222"), fixedrange=True)

# chromosome labels
CHR_LABEL_PX = [200, 386, 537, 702, 904]
for lab, xp in zip(CHROMOSOMES, CHR_LABEL_PX):
    for ypix in (492, 1169):
        annotations.append(dict(x=px(xp), y=py(ypix), xref="paper", yref="paper", text="<b>%s</b>" % lab,
                                showarrow=False, xanchor="center", yanchor="middle",
                                font=dict(family=BOLD, size=21, color="black")))

# titles
annotations.append(dict(x=px(564), y=py(24), xref="paper", yref="paper", text="<b>CVI x Ler HYPOCOTYLS</b>",
                        showarrow=False, xanchor="center", yanchor="middle",
                        font=dict(family=BOLD, size=27, color="black")))
annotations.append(dict(x=px(560), y=py(702), xref="paper", yref="paper", text="<b>CVI x Ler ROOTS</b>",
                        showarrow=False, xanchor="center", yanchor="middle",
                        font=dict(family=BOLD, size=27, color="black")))

# axis titles
for txt, xp, yp, fs in [("LOD", 25, 240, 20), ("Additive Effect (mm)", 22, 604, 22), ("LOD", 25, 928, 20),
                        ("Additive Effect (mm)", 22, 1276, 22)]:
    annotations.append(dict(x=px(xp), y=py(yp), xref="paper", yref="paper", text="<b>%s</b>" % txt,
                            showarrow=False, textangle=-90, xanchor="center", yanchor="middle",
                            font=dict(family=BOLD, size=fs, color="black")))

# legend (manual)
for i, name in enumerate(SERIES):
    yy = 1380 + 24 * i
    shapes.append(dict(type="line", xref="paper", yref="paper", x0=px(122), x1=px(228), y0=py(yy), y1=py(yy),
                       line=dict(color=COLORS[name], width=3)))
    annotations.append(dict(x=px(238), y=py(yy), xref="paper", yref="paper", text="<b>%s</b>" % name,
                            showarrow=False, xanchor="left", yanchor="middle",
                            font=dict(family=BOLD, size=22, color="black")))

fig.update_layout(
    width=FW, height=FH,
    margin=dict(l=0, r=0, t=0, b=0),
    paper_bgcolor="white", plot_bgcolor="white",
    showlegend=False,
    shapes=shapes,
    annotations=annotations,
    **layout_axes,
)

fig.write_html("out.html", include_plotlyjs=True, config={"displayModeBar": False})
